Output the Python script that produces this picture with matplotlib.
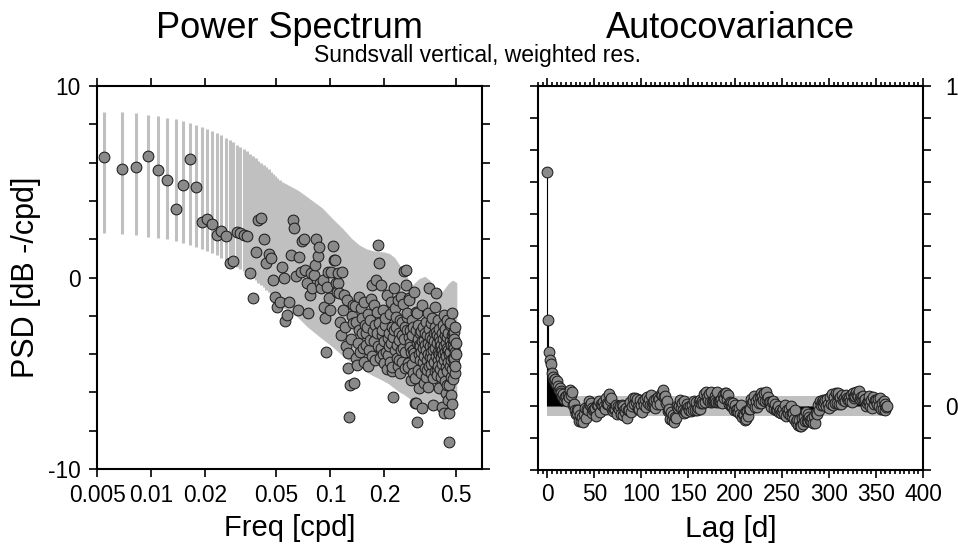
import numpy as np
import matplotlib
matplotlib.use('Agg')
import matplotlib.pyplot as plt
from matplotlib.ticker import FixedLocator, FixedFormatter, MultipleLocator, NullLocator, FuncFormatter

plt.rcParams['font.family'] = ['Liberation Sans', 'DejaVu Sans']
plt.rcParams['axes.unicode_minus'] = False

# ---------------- data ----------------
record_days = 730
psd_k = np.arange(4, 366)          # frequency index, freq = k / record_days
psd_db = [
    6.31, 5.68, 5.79, 6.33, 5.61, 5.09, 3.56, 4.81, 6.17, 4.74,
    2.91, 3.05, 2.79, 2.22, 2.45, 2.17, 0.77, 0.88, 2.39, 2.30,
    2.20, 2.18, 0.22, -1.09, 1.35, 3.00, 3.09, 2.00, 0.77, 1.23,
    1.00, -0.13, -1.04, -1.52, -1.26, 0.57, 0.00, -2.25, -1.96, -1.26,
    1.17, 3.00, 2.57, 0.10, -1.70, 1.05, 0.30, 1.92, 2.00, 0.39,
    -0.27, -1.87, -0.91, 0.25, -0.57, 0.13, 0.65, 2.00, 1.12, 1.58,
    -0.30, -0.57, -0.13, -1.56, -2.13, -3.87, -0.50, 0.30, -1.09, -1.70,
    0.30, 1.64, 0.91, 0.90, -0.30, -0.74, -0.30, 0.25, -0.83, -2.30,
    -3.00, 0.30, -1.70, -0.90, -2.60, -3.60, -1.20, -3.96, -4.74, -7.27,
    -5.60, -3.20, -2.00, -1.44, -2.40, -5.50, -1.50, -4.20, -2.30, -4.57,
    -3.40, -2.74, -1.00, -3.90, -1.60, -2.90, -2.10, -3.70, -1.30, -4.40,
    -2.50, -2.90, -3.50, -2.57, -1.90, -4.60, -3.79, -2.20, -3.26, -1.10,
    -4.10, -0.39, -2.80, -3.30, -1.44, -4.30, -2.50, -0.13, -2.90, -1.78,
    -3.60, 1.70, 0.74, -2.40, -4.20, -0.39, -3.70, -3.00, -2.74, -4.00,
    -1.70, -4.48, -3.30, -2.50, -2.13, -3.90, -4.80, -0.91, -3.18, -4.05,
    -2.90, -3.60, -1.90, -4.40, -1.26, -3.40, -2.60, -4.90, -4.66, -6.22,
    -3.10, -0.57, -2.74, -3.80, -1.60, -2.04, -2.57, -4.20, -3.50, -1.20,
    -4.60, -2.90, -3.26, -4.31, -2.20, -5.00, -3.79, -1.00, -3.00, -4.40,
    -2.30, -3.70, -1.40, 0.36, -3.20, -4.70, -2.60, -3.90, 0.39, -0.39,
    -2.04, -2.74, -1.87, -4.48, -4.66, -3.10, -1.09, -1.17, -3.44, -3.61,
    -2.74, -5.35, -3.90, -2.20, -4.50, -3.00, -5.00, -2.60, -3.80, -0.74,
    -3.96, -4.13, -5.27, -6.57, -1.78, -2.74, -6.57, -7.53, -1.87, -3.44,
    -4.83, -3.20, -2.50, -5.79, -4.00, -3.50, -2.90, -3.60, -4.31, -2.80,
    -3.90, -5.00, -1.44, -6.83, -3.30, -4.40, -2.60, -3.70, -3.26, -5.53,
    -4.10, -2.90, -3.50, -4.70, -2.30, -3.80, -5.20, -3.00, -4.30, -4.83,
    -5.70, -1.87, -3.40, -4.00, -2.70, -4.60, -0.57, -3.09, -4.13, -3.60,
    -5.00, -2.40, -3.90, -4.50, -3.20, -2.10, -4.20, -3.50, -5.27, -6.66,
    -3.80, -2.90, -4.40, -3.30, -1.52, -4.90, -3.70, -2.60, -4.10, -0.83,
    -2.83, -4.83, -3.40, -5.10, -3.00, -4.30, -2.20, -3.90, -4.60, -3.10,
    -5.79, -4.00, -2.70, -3.60, -4.80, -3.30, -3.96, -5.18, -3.50, -4.20,
    -2.90, -3.80, -6.74, -4.50, -3.20, -2.50, -4.00, -5.00, -3.60, -1.96,
    -7.10, -4.30, -3.00, -3.90, -5.40, -2.70, -4.66, -6.05, -3.40, -4.10,
    -2.20, -3.70, -4.90, -3.10, -5.60, -4.40, -2.90, -3.80, -6.40, -4.00,
    -5.61, -7.10, -8.57, -3.30, -4.60, -2.50, -3.90, -2.40, -5.18, -6.14,
    -3.50, -4.30, -3.00, -4.80, -6.60, -1.87, -3.26, -4.20, -3.60, -5.30,
    -2.90, -4.50, -2.83, -3.70, -4.22, -3.20, -5.00, -3.90, -4.60, -2.60,
    -3.40, -4.00,
]

# confidence band: separate bars at low frequency index ...
band_bar_k = np.arange(4, 41)
band_bar_hi = [
    8.66, 8.62, 8.57, 8.50, 8.43, 8.35, 8.27, 8.18, 8.08, 7.98,
    7.87, 7.76, 7.65, 7.53, 7.42, 7.30, 7.18, 7.06, 6.94, 6.82,
    6.70, 6.58, 6.46, 6.34, 6.22, 6.10, 5.98, 5.86, 5.75, 5.64,
    5.53, 5.42, 5.31, 5.20, 5.10, 5.00, 4.90,
]
band_bar_lo = [
    2.32, 2.27, 2.21, 2.14, 2.07, 1.99, 1.90, 1.80, 1.70, 1.59,
    1.48, 1.37, 1.26, 1.15, 1.04, 0.93, 0.81, 0.69, 0.57, 0.45,
    0.33, 0.21, 0.09, -0.03, -0.15, -0.27, -0.39, -0.51, -0.63, -0.75,
    -0.87, -0.98, -1.09, -1.20, -1.31, -1.42, -1.52,
]
# ... merging into a continuous band at higher frequency index
band_fill_k = [40, 48, 55, 65, 75, 85, 95, 105, 115, 125, 135, 145, 155, 165,
               176, 188, 198, 208, 218, 230, 245, 260, 275, 290, 305, 320,
               335, 350, 365]
band_fill_hi = [4.90, 4.50, 4.10, 3.60, 3.00, 2.50, 2.00, 1.65, 1.45, 1.35,
                1.30, 1.28, 1.20, 1.00, 0.60, 0.25, -0.20, -0.50, -0.30,
                -0.10, 0.00, -0.20, -0.55, -0.85, -0.85, -0.60, -0.35,
                -0.20, -0.30]
band_fill_lo = [-1.52, -2.00, -2.55, -3.10, -3.55, -4.00, -4.35, -4.60, -4.85,
                -5.05, -5.20, -5.35, -5.50, -5.70, -5.90, -6.05, -6.20,
                -6.35, -6.55, -6.75, -6.85, -6.75, -6.65, -6.60, -6.60,
                -6.70, -6.85, -6.90, -6.70]

acov_lag = np.arange(0, 363)
acov = [
    0.732, 0.268, 0.169, 0.145, 0.130, 0.104, 0.092, 0.080, 0.085, 0.070,
    0.078, 0.062, 0.050, 0.055, 0.047, 0.040, 0.030, 0.036, 0.022, 0.028,
    0.030, 0.015, 0.034, 0.029, 0.050, 0.034, 0.044, 0.004, 0.007, -0.013,
    -0.025, -0.011, -0.021, -0.014, -0.046, -0.028, -0.048, -0.035, -0.050, -0.026,
    -0.006, -0.036, -0.008, -0.013, 0.017, 0.002, 0.009, -0.021, -0.006, -0.011,
    -0.008, -0.006, -0.031, 0.004, 0.002, 0.017, -0.019, 0.006, 0.004, 0.012,
    -0.001, -0.008, 0.024, 0.007, 0.010, 0.007, 0.037, 0.019, 0.024, -0.008,
    -0.016, -0.010, -0.008, 0.004, -0.025, -0.001, -0.009, -0.001, -0.024, 0.002,
    -0.001, -0.028, -0.011, -0.018, -0.006, -0.036, -0.013, -0.013, 0.014, -0.018,
    -0.001, 0.026, 0.007, 0.024, 0.012, 0.022, -0.010, -0.004, -0.010, 0.019,
    0.002, -0.018, 0.017, 0.002, 0.022, -0.003, 0.029, 0.009, 0.022, 0.004,
    0.034, 0.002, 0.009, 0.002, 0.019, -0.006, 0.022, 0.007, 0.027, 0.022,
    0.007, 0.037, 0.034, 0.050, 0.027, 0.032, 0.010, 0.017, -0.015, -0.011,
    -0.008, -0.041, -0.018, -0.043, -0.028, -0.050, -0.034, -0.038, -0.001, -0.006,
    0.000, 0.019, -0.005, 0.009, -0.014, 0.016, -0.021, -0.016, -0.020, 0.007,
    -0.003, -0.014, -0.001, -0.016, 0.004, -0.013, 0.017, -0.012, 0.012, -0.013,
    -0.006, 0.012, -0.008, 0.020, 0.008, 0.016, 0.009, 0.037, 0.014, 0.044,
    0.029, 0.019, 0.037, 0.014, 0.044, 0.011, 0.017, 0.017, 0.030, 0.018,
    0.014, 0.044, 0.011, 0.017, 0.017, 0.022, 0.008, 0.034, 0.025, 0.041,
    0.042, 0.022, 0.034, 0.005, 0.012, -0.001, 0.009, -0.001, 0.009, -0.011,
    0.004, -0.012, -0.008, -0.018, -0.006, -0.026, 0.004, -0.033, -0.026, -0.028,
    -0.045, -0.016, -0.041, -0.016, -0.031, -0.008, -0.008, 0.022, 0.010, 0.016,
    0.032, -0.003, 0.017, -0.003, 0.024, 0.010, 0.032, 0.009, 0.041, 0.032,
    0.020, 0.040, 0.015, 0.044, 0.019, 0.029, 0.011, 0.012, -0.003, 0.012,
    0.017, -0.008, 0.006, -0.011, -0.008, -0.013, 0.000, -0.018, -0.011, -0.023,
    -0.016, -0.010, -0.026, 0.002, -0.030, -0.011, -0.021, -0.009, -0.028, -0.001,
    -0.021, -0.031, -0.021, -0.041, -0.014, -0.051, -0.043, -0.058, -0.043, -0.064,
    -0.062, -0.038, -0.056, -0.033, -0.048, -0.018, -0.048, -0.024, -0.048, -0.033,
    -0.045, -0.048, -0.038, -0.052, -0.031, -0.053, -0.021, -0.026, 0.004, -0.013,
    0.017, 0.002, 0.012, 0.002, 0.019, 0.012, 0.019, 0.001, 0.022, 0.007,
    -0.005, 0.027, 0.006, 0.036, 0.004, 0.027, 0.010, 0.040, 0.010, 0.034,
    0.040, 0.007, 0.027, 0.007, 0.034, 0.018, 0.024, 0.017, 0.034, 0.026,
    0.018, 0.024, 0.017, 0.034, 0.012, 0.042, 0.024, 0.032, 0.030, 0.044,
    0.034, 0.030, 0.048, 0.021, 0.027, 0.022, 0.032, 0.018, 0.022, -0.001,
    0.009, 0.017, 0.017, 0.030, 0.000, 0.019, -0.005, 0.027, 0.006, 0.019,
    0.019, 0.007, 0.021, -0.001, 0.024, -0.009, 0.010, -0.008, 0.017, -0.012,
    0.006, -0.004, 0.000,
]
acov_ci_lo, acov_ci_hi = -0.032, 0.030

freq_ticks = [0.005, 0.01, 0.02, 0.05, 0.1, 0.2, 0.5]
freq_tick_labels = ['0.005', '0.01', '0.02', '0.05', '0.1', '0.2', '0.5']

# ---------------- style ----------------
band_color = '#c0c0c0'
face_color = '#8a8a8a'
edge_color = '#1e1e1e'
marker_s = 60
W, H = 958, 548

fig = plt.figure(figsize=(W / 100, H / 100), dpi=100)
ax1 = fig.add_axes([97 / W, 1 - 469 / H, 385 / W, 383 / H])
ax2 = fig.add_axes([538 / W, 1 - 470 / H, 385 / W, 384 / H])

# ---------------- power spectrum ----------------
ax1.vlines(band_bar_k / record_days, band_bar_lo, band_bar_hi,
           color=band_color, lw=2.2, zorder=1)
ax1.fill_between(np.array(band_fill_k) / record_days, band_fill_lo, band_fill_hi,
                 color=band_color, lw=1.5, edgecolor=band_color, zorder=1)
ax1.scatter(psd_k / record_days, psd_db, s=marker_s, c=face_color,
            edgecolors=edge_color, linewidths=0.75, zorder=3)
ax1.set_xscale('log')
ax1.set_xlim(0.005, 0.7)
ax1.set_ylim(-10, 10)
ax1.xaxis.set_major_locator(FixedLocator(freq_ticks))
ax1.xaxis.set_major_formatter(FixedFormatter(freq_tick_labels))
ax1.xaxis.set_minor_locator(NullLocator())
ax1.yaxis.set_major_locator(FixedLocator([-10, 0, 10]))
ax1.yaxis.set_minor_locator(MultipleLocator(2))
ax1.tick_params(which='both', direction='out', top=True, right=True,
                length=6, width=1.2, labelsize=16.4)
ax1.tick_params(axis='x', pad=4.6)
ax1.tick_params(axis='y', pad=6.0)
ax1.set_xlabel('Freq [cpd]', fontsize=21)
ax1.xaxis.set_label_coords(0.5, -0.118)
ax1.set_ylabel('PSD [dB -/cpd]', fontsize=22)
ax1.yaxis.label.set_va('center')
ax1.yaxis.set_label_coords((26 - 97) / 385, 0.5)

# ---------------- autocovariance ----------------
ax2.fill_between([acov_lag[0], acov_lag[-1]], acov_ci_lo, acov_ci_hi,
                 color=band_color, lw=0, zorder=1)
ax2.vlines(acov_lag, 0, acov, color='black', lw=0.8, zorder=2)
ax2.scatter(acov_lag, acov, s=marker_s, c=face_color, edgecolors=edge_color,
            linewidths=0.75, zorder=3)
ax2.set_xlim(-10, 400)
ax2.set_ylim(-0.2, 1.0)
ax2.xaxis.set_major_locator(MultipleLocator(50))
ax2.xaxis.set_minor_locator(MultipleLocator(5))
ax2.yaxis.set_major_locator(MultipleLocator(0.1))
ax2.yaxis.set_major_formatter(FuncFormatter(
    lambda v, p: ('%d' % round(v)) if abs(v - round(v)) < 1e-6 and round(v) in (0, 1) else ''))
ax2.tick_params(which='both', direction='out', top=True, right=True,
                labelleft=False, labelright=True, width=1.2, labelsize=16.4)
ax2.tick_params(which='major', length=6)
ax2.tick_params(which='minor', length=3)
ax2.tick_params(axis='x', pad=3.4)
ax2.tick_params(axis='y', pad=10)
ax2.set_xlabel('Lag [d]', fontsize=21.6)
ax2.xaxis.set_label_coords(0.5, -0.118)

for ax in (ax1, ax2):
    for sp in ax.spines.values():
        sp.set_linewidth(1.5)

# ---------------- titles ----------------
fig.text(289.5 / W, 1 - 38 / H, 'Power Spectrum', ha='center', va='baseline', fontsize=26)
fig.text(730 / W, 1 - 38 / H, 'Autocovariance', ha='center', va='baseline', fontsize=26)
fig.text(478 / W, 1 - 62 / H, 'Sundsvall vertical, weighted res.', ha='center',
         va='baseline', fontsize=16.5)

fig.savefig('out.png', dpi=100)
